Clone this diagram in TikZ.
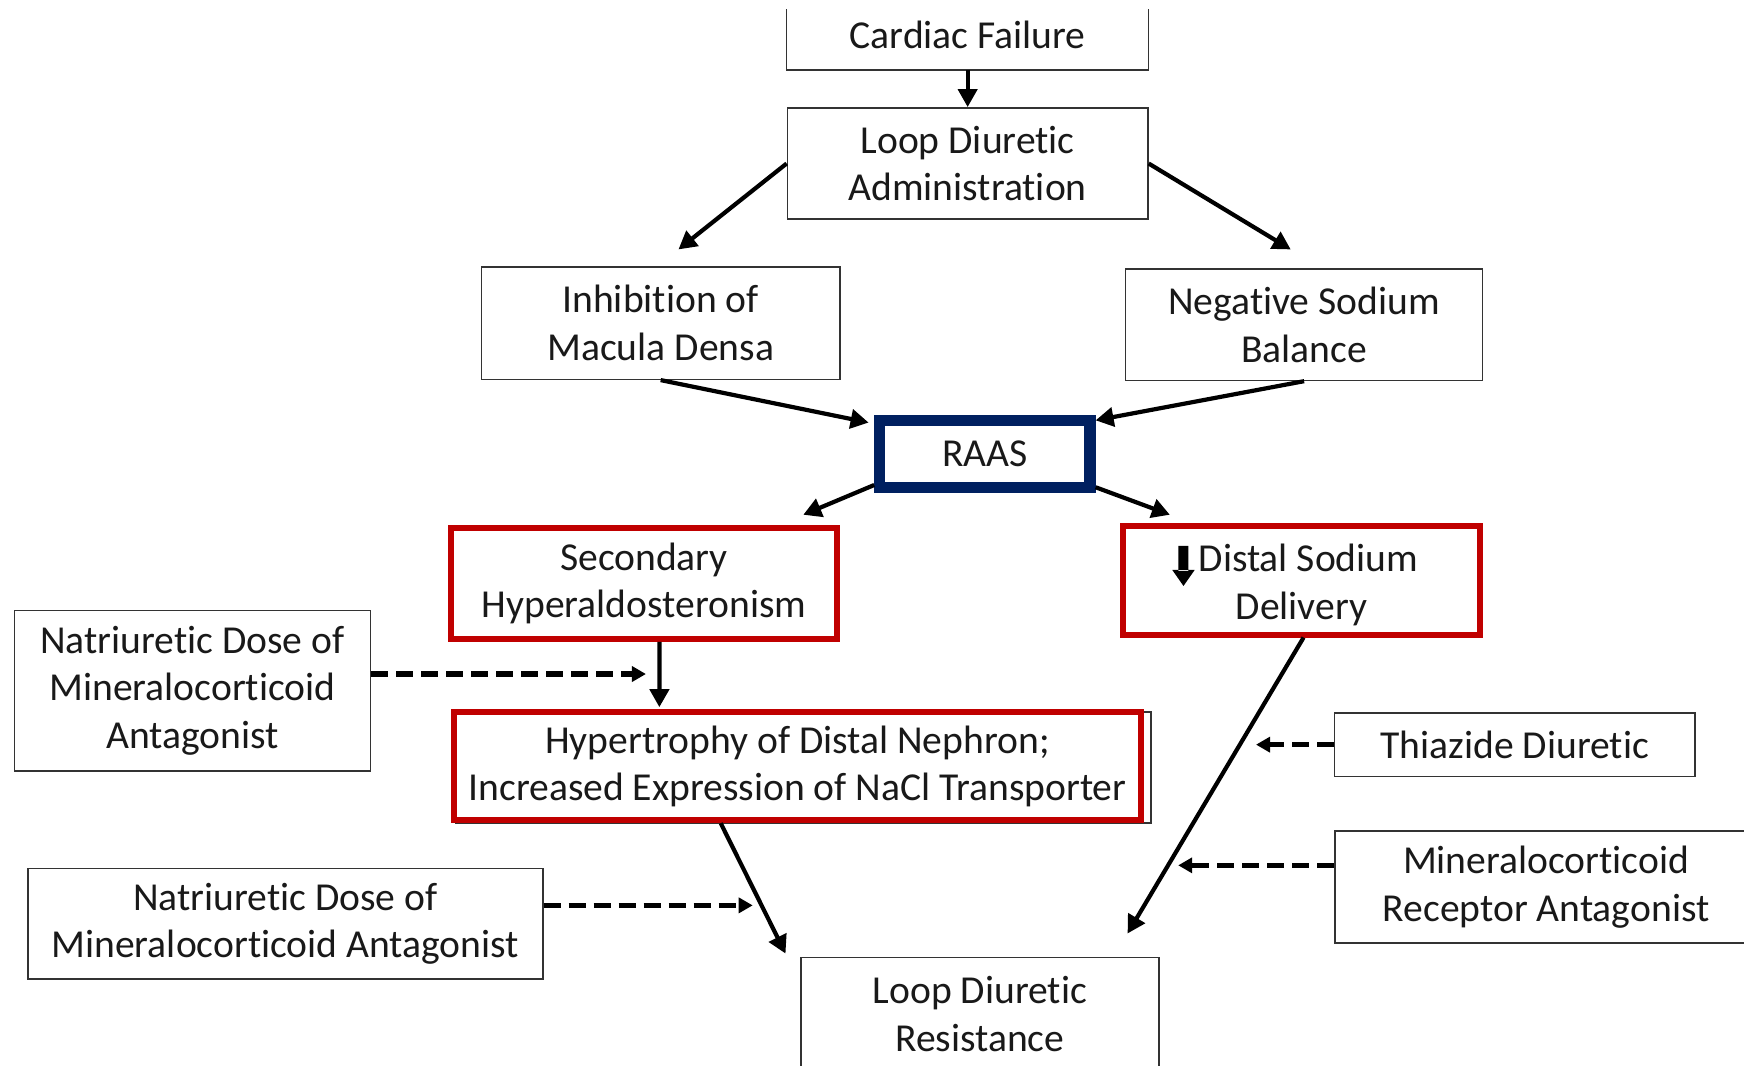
\documentclass[tikz,border=0pt]{standalone}
\usepackage{fontspec}
\setmainfont[Ligatures={NoCommon}]{Carlito}
\usetikzlibrary{arrows.meta,calc}
\definecolor{boxred}{HTML}{C00000}
\definecolor{navyblue}{HTML}{002060}
\newcommand\distalarrow{\smash{\tikz[x=1pt,y=1pt,baseline=0pt]\fill[black] (-2.5,13) rectangle (2.5,0.5) (-5.6,1) -- (5.6,1) -- (0,-7) -- cycle;}}
\begin{document}
\begin{tikzpicture}[x=0.5561pt,y=-0.5561pt,
  box/.style={draw=black!80, line width=0.8pt, fill=white, align=center, inner sep=0pt,
    font=\fontsize{19.8}{23.9}\selectfont, text=black!90},
  redbox/.style={box, draw=boxred, line width=3pt},
  raasbox/.style={box, draw=navyblue, line width=5.6pt},
  arr/.style={line width=2.1pt, -{Triangle[length=9pt,width=9.5pt]}},
  darr/.style={line width=2.7pt, dash pattern=on 8.5pt off 4pt, -{Triangle[length=7pt,width=7.5pt]}}]
\useasboundingbox (0,0) rectangle (1568,958);
\clip (0,0) rectangle (1568,958);

\node[box, draw=none, fill=none, minimum width=180.2pt, minimum height=34.5pt] (cardiac) at (870,31) {Cardiac Failure};
\draw[black!80, line width=0.8pt] ([yshift=-5pt]cardiac.north west) -- (cardiac.south west) -- (cardiac.south east) -- ([yshift=-5pt]cardiac.north east);
\node[box, minimum width=180.2pt, minimum height=55.6pt] (admin) at (870,147) {Loop Diuretic\\Administration};
\node[box, minimum width=179.1pt, minimum height=56.2pt] (inhib) at (594,290.5) {Inhibition of\\Macula Densa};
\node[box, minimum width=178.5pt, minimum height=55.6pt] (negsod) at (1172.5,292) {Negative Sodium\\Balance};
\node[raasbox, minimum width=105.1pt, minimum height=33.4pt] (raas) at (885.5,408) {RAAS};
\node[redbox, minimum width=193pt, minimum height=55.6pt] (sechyp) at (579,524.5) {Secondary\\Hyperaldosteronism};
\node[redbox, minimum width=178.5pt, minimum height=54.5pt] (distal) at (1170,521.5) {\rule{0pt}{19pt}\hspace{-6pt}\distalarrow\hspace{2pt}Distal Sodium\\Delivery};
\node[box, minimum width=178pt, minimum height=80.1pt] (natri1) at (173,621) {Natriuretic Dose of\\Mineralocorticoid\\Antagonist};
\node[box, minimum width=347.6pt, minimum height=55.6pt] (hyperbg) at (722.5,690) {};
\node[redbox, minimum width=343.1pt, minimum height=53.9pt] (hyper) at (717,689) {Hypertrophy of Distal Nephron;\\Increased Expression of NaCl Transporter};
\node[box, minimum width=180.2pt, minimum height=31.7pt] (thiazide) at (1362,669.5) {Thiazide Diuretic};
\node[box, minimum width=211.3pt, minimum height=56.2pt] (mra) at (1390,797.5) {Mineralocorticoid\\Receptor Antagonist};
\node[box, minimum width=257.5pt, minimum height=55.1pt] (natri2) at (256.5,830.5) {Natriuretic Dose of\\Mineralocorticoid Antagonist};
\node[box, minimum width=179.1pt, minimum height=56.7pt] (ldr) at (881,912) {Loop Diuretic\\Resistance};

\draw[arr] (cardiac.south) -- (admin.north);
\draw[arr] (admin.west) -- ($(inhib.north)+(16,-15)$);
\draw[arr] (admin.east) -- ($(negsod.north)+(-12,-17)$);
\draw[arr] (inhib.south) -- ($(raas.north west)+(-5,7)$);
\draw[arr] (negsod.south) -- ($(raas.north east)+(0,5)$);
\draw[arr] ($(raas.south west)+(0,-7)$) -- ($(sechyp.north east)+(-33,-9)$);
\draw[arr] ($(raas.south east)+(0,-5)$) -- ($(distal.north west)+(45,-7)$);
\draw[arr] ($(sechyp.south)+(14,0)$) -- ($(hyper.north west)+(187,-2)$);
\draw[arr] ($(hyper.south)+(-69,0)$) -- ($(ldr.north west)+(-13,-3)$);
\draw[arr] ($(distal.south)+(2,0)$) -- ($(ldr.north east)+(-29,-21)$);
\draw[darr] ($(natri1.east)+(0,-15)$) -- ++(247,0);
\draw[darr] ($(natri2.east)+(0,-16.5)$) -- ++(188,0);
\draw[darr] (thiazide.west) -- ++(-70,0);
\draw[darr] ($(mra.west)+(0,-19.5)$) -- ++(-140,0);
\end{tikzpicture}
\end{document}
